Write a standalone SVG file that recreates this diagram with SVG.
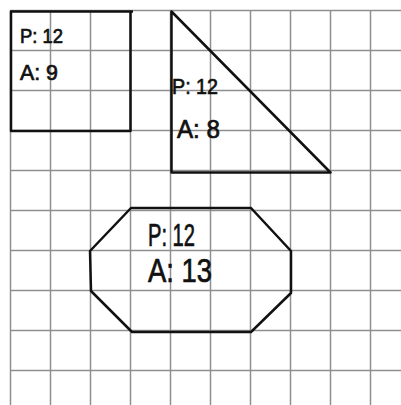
<svg xmlns="http://www.w3.org/2000/svg" width="401" height="405" viewBox="0 0 401 405">
<style>
.grid line{stroke:#8f8f8f;stroke-width:1.5}
.shape{fill:none;stroke:#111;stroke-width:2.5;stroke-linejoin:round}
.lbl{font-family:"Liberation Sans",Arial,sans-serif;fill:#111;stroke:#111;stroke-width:0.7}
</style>
<rect width="401" height="405" fill="#fff"/>
<g id="grid" class="grid">
<line x1="10.5" y1="10" x2="10.5" y2="405"/>
<line x1="50.5" y1="10" x2="50.5" y2="405"/>
<line x1="90.5" y1="10" x2="90.5" y2="405"/>
<line x1="130.5" y1="10" x2="130.5" y2="405"/>
<line x1="170.5" y1="10" x2="170.5" y2="405"/>
<line x1="210.5" y1="10" x2="210.5" y2="405"/>
<line x1="250.5" y1="10" x2="250.5" y2="405"/>
<line x1="290.5" y1="10" x2="290.5" y2="405"/>
<line x1="330.5" y1="10" x2="330.5" y2="405"/>
<line x1="370.5" y1="10" x2="370.5" y2="405"/>
<line x1="10" y1="10.5" x2="401" y2="10.5"/>
<line x1="10" y1="50.5" x2="401" y2="50.5"/>
<line x1="10" y1="90.5" x2="401" y2="90.5"/>
<line x1="10" y1="130.5" x2="401" y2="130.5"/>
<line x1="10" y1="170.5" x2="401" y2="170.5"/>
<line x1="10" y1="210.5" x2="401" y2="210.5"/>
<line x1="10" y1="250.5" x2="401" y2="250.5"/>
<line x1="10" y1="290.5" x2="401" y2="290.5"/>
<line x1="10" y1="330.5" x2="401" y2="330.5"/>
<line x1="10" y1="370.5" x2="401" y2="370.5"/>
</g>
<g id="square">
<polyline class="shape" points="133,11.5 11,11.5 11,131 130.5,131 130.5,11.5"/>
<text class="lbl" x="20" y="43" font-size="20" textLength="43" lengthAdjust="spacingAndGlyphs">P: 12</text>
<text class="lbl" x="20" y="80" font-size="22" textLength="38" lengthAdjust="spacingAndGlyphs">A: 9</text>
</g>
<g id="triangle">
<polygon class="shape" points="171.5,11.5 171.5,172.5 330.5,172.5"/>
<text class="lbl" x="172" y="94" font-size="22" textLength="46" lengthAdjust="spacingAndGlyphs">P: 12</text>
<text class="lbl" x="177" y="138" font-size="25" textLength="43" lengthAdjust="spacingAndGlyphs">A: 8</text>
</g>
<g id="octagon">
<polygon class="shape" points="131,208 251,208 291,251 291,293 251,332 132,332 91,291 90,251"/>
<text class="lbl" x="148" y="246" font-size="31" textLength="47" lengthAdjust="spacingAndGlyphs">P: 12</text>
<text class="lbl" x="148" y="282" font-size="33" textLength="64" lengthAdjust="spacingAndGlyphs">A: 13</text>
</g>
</svg>
